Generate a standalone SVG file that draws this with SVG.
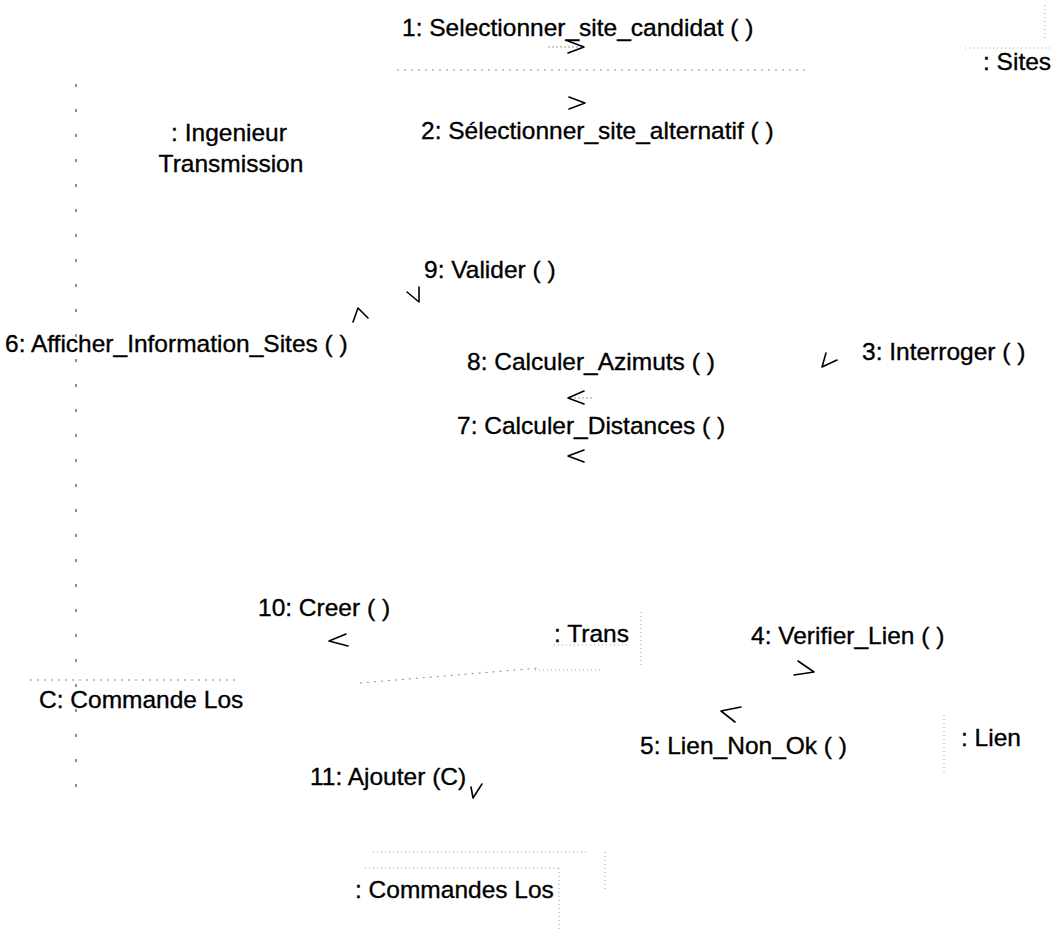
<svg xmlns="http://www.w3.org/2000/svg" width="1058" height="936" viewBox="0 0 1058 936">
  <style>
    text { font-family: "Liberation Sans", Arial, sans-serif; font-size: 24.5px; fill: #000; stroke: #000; stroke-width: 0.35; }
    .link { fill: none; stroke: #8a8a8a; stroke-width: 1; stroke-dasharray: 2 5; }
    .side { fill: none; stroke: #555; stroke-width: 1.3; stroke-dasharray: 3 22; }
    .box { fill: none; stroke: #a0a0a0; stroke-width: 1; stroke-dasharray: 1 3; }
    .head { fill: none; stroke: #000; stroke-width: 1.6; stroke-linecap: round; stroke-linejoin: round; }
    .shaft { fill: none; stroke: #9a9a9a; stroke-width: 1; stroke-dasharray: 2 2; }
  </style>

  <rect width="1058" height="936" fill="#fff"/>

  <!-- links between objects (faded, dotted) -->
  <g id="connectors">
    <line class="link" x1="397" y1="70" x2="810" y2="70"/>
    <line class="side" x1="76" y1="84" x2="76" y2="805"/>
    <line class="link" x1="30" y1="680" x2="240" y2="680"/>
    <line class="link" x1="360" y1="683" x2="540" y2="668"/>

    <!-- message arrows -->
    <g id="msg1"><line class="shaft" x1="548" y1="47" x2="582" y2="47"/><polyline class="head" points="568,41 584,47 568,53"/></g>
    <g id="msg2"><polyline class="head" points="569,97 585,103 569,109"/></g>
    <g id="msg3"><polyline class="head" points="826,353 822,367 837,360"/></g>
    <g id="msg4"><polyline class="head" points="798,661 814,672 794,675"/></g>
    <g id="msg5"><polyline class="head" points="741,707 721,711 735,722"/></g>
    <g id="msg6"><polyline class="head" points="353,322 358,308 368,318"/></g>
    <g id="msg7"><polyline class="head" points="584,450 568,456 584,462"/></g>
    <g id="msg8"><line class="shaft" x1="570" y1="398" x2="592" y2="398"/><polyline class="head" points="584,391 568,398 584,404"/></g>
    <g id="msg9"><polyline class="head" points="407,292 419,302 419,287"/></g>
    <g id="msg10"><polyline class="head" points="346,634 329,641 348,646"/></g>
    <g id="msg11"><polyline class="head" points="471,787 473,798 482,784"/></g>
  </g>

  <!-- objects -->
  <g id="sites">
    <line class="box" x1="1045" y1="5" x2="1045" y2="40"/>
    <line class="box" x1="965" y1="48" x2="1050" y2="48"/>
    <text x="983" y="70">: Sites</text>
  </g>

  <g id="ingenieur">
    <text x="229" y="141" text-anchor="middle">: Ingenieur</text>
    <text x="231" y="172" text-anchor="middle">Transmission</text>
  </g>

  <g id="trans">
    <line class="box" x1="641" y1="612" x2="641" y2="668"/>
    <line class="box" x1="535" y1="670" x2="600" y2="670"/>
    <text x="554" y="642">: Trans</text>
    <line class="box" x1="554" y1="645" x2="627" y2="645"/>
  </g>

  <g id="lien">
    <line class="box" x1="944" y1="715" x2="944" y2="772"/>
    <text x="961" y="746">: Lien</text>
  </g>

  <g id="commande-los">
    <text x="39" y="708">C: Commande Los</text>
  </g>

  <g id="commandes-los">
    <line class="box" x1="373" y1="852" x2="587" y2="852"/>
    <line class="box" x1="365" y1="868" x2="560" y2="868"/>
    <line class="box" x1="559" y1="868" x2="559" y2="930"/>
    <line class="box" x1="605" y1="852" x2="605" y2="890"/>
    <text x="355" y="898">: Commandes Los</text>
  </g>

  <!-- message labels -->
  <g id="labels">
    <text x="402" y="36">1: Selectionner_site_candidat ( )</text>
    <text x="421" y="139">2: Sélectionner_site_alternatif ( )</text>
    <text x="862" y="360">3: Interroger ( )</text>
    <text x="751" y="644">4: Verifier_Lien ( )</text>
    <text x="640" y="754">5: Lien_Non_Ok ( )</text>
    <text x="5" y="352">6: Afficher_Information_Sites ( )</text>
    <text x="457" y="434">7: Calculer_Distances ( )</text>
    <text x="467" y="370">8: Calculer_Azimuts ( )</text>
    <text x="424" y="278">9: Valider ( )</text>
    <text x="258" y="616">10: Creer ( )</text>
    <text x="310" y="785">11: Ajouter (C)</text>
  </g>
</svg>
